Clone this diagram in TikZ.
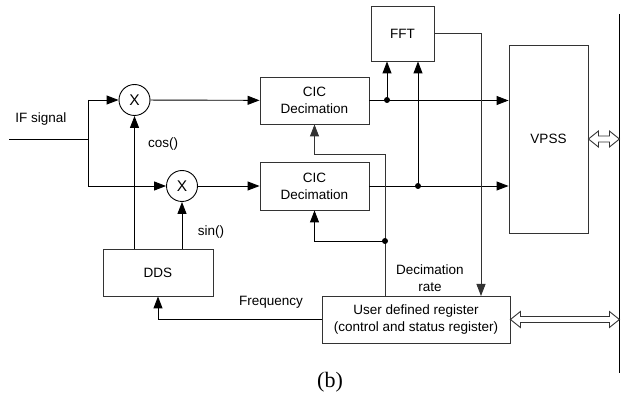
\documentclass[tikz,border=0pt]{standalone}
\usepackage{fontspec}
\setmainfont{Liberation Sans}
\newfontfamily\serifb{Liberation Serif}
\usetikzlibrary{arrows.meta,calc}
\begin{document}
\begin{tikzpicture}[x=1pt,y=-1pt,
  font=\fontsize{13.5}{17}\selectfont,
  line width=0.9pt,
  boxnode/.style={draw=black!80,rectangle,inner sep=0pt,align=center},
  mixnode/.style={draw=black,circle,minimum size=31pt,inner sep=0pt,font=\fontsize{15.5}{17}\selectfont},
  arr/.style={-{Triangle[length=12pt,width=9pt]}},
  dotnode/.style={circle,fill=black,inner sep=0pt,minimum size=6pt},
  fat/.style={draw=black!80,fill=white,line width=0.9pt,line join=miter},
  lbl/.style={inner sep=0pt,align=center}]
\useasboundingbox (0,0) rectangle (641,406);

% blocks
\node[mixnode] (m1) at (134.5,100) {X};
\node[mixnode] (m2) at (182,186) {X};
\node[boxnode,minimum width=109pt,minimum height=47pt] (cic1) at (314.5,100.5) {CIC\\Decimation};
\node[boxnode,minimum width=109pt,minimum height=48pt] (cic2) at (314.5,186) {CIC\\Decimation};
\node[boxnode,minimum width=63pt,minimum height=55pt] (fft) at (402.5,33.5) {FFT};
\node[boxnode,minimum width=79pt,minimum height=188pt] (vpss) at (548.5,139) {VPSS};
\node[boxnode,minimum width=110pt,minimum height=47pt] (dds) at (158,272.5) {DDS};
\node[boxnode,minimum width=188pt,minimum height=47pt] (reg) at (416,319.5) {User defined register\\(control and status register)};

% coordinates
\coordinate (ifin) at (9,139);
\coordinate (brm) at (88,139);
\coordinate (brt) at (88,100);
\coordinate (brb) at (88,186);
\coordinate (d1) at (387,100);
\coordinate (d2) at (418,186);
\coordinate (fr) at (481,296);
\coordinate (dt) at (385,154);
\coordinate (dj) at (385,241);
\coordinate (bustop) at (619,14);
\coordinate (busbot) at (619,373);

% input
\draw (ifin) -- (brm);
\draw (brt) -- (brb);
\draw[arr] (brt) -- (m1);
\draw[arr] (brb) -- (m2);
\draw[arr] (m1) -- (cic1);
\draw[arr] (m2) -- (cic2);

% DDS
\draw[arr] (dds.north -| m1) -- (m1.south);
\draw[arr] (dds.north -| m2) -- (m2.south);
\draw[arr] (reg.west) -| (dds.south);

% CIC outputs
\draw[arr] (cic1.east) -- (cic1.east -| vpss.west);
\draw[arr] (cic2.east) -- (cic2.east -| vpss.west);
\draw[arr] (d1) -- (d1 |- fft.south);
\draw[arr] (d2) -- (d2 |- fft.south);
\node[dotnode] at (d1) {};
\node[dotnode] at (d2) {};

% FFT to register
\draw[arr,draw=black!80] (fft.east) -| (fr);

% decimation feedback
\draw[arr,draw=black!80] (reg.north -| dt) -- (dt) -| (cic1.south);
\draw[arr] (dj) -| (cic2.south);
\node[dotnode] at (dj) {};

% bus
\draw (bustop) -- (busbot);

% fat double arrows
\draw[fat] (vpss.east) -- ++(10,-8) -- ++(0,5) -- ++(11,0) -- ++(0,-5) -- ++(10,8)
  -- ++(-10,8) -- ++(0,-5) -- ++(-11,0) -- ++(0,5) -- cycle;
\draw[fat] (reg.east) -- ++(10,-8) -- ++(0,5) -- ++(89,0) -- ++(0,-5) -- ++(10,8)
  -- ++(-10,8) -- ++(0,-5) -- ++(-89,0) -- ++(0,5) -- cycle;

% labels
\node[lbl] (lif) at (41,119) {IF signal};
\node[lbl] (lcos) at (163,144) {cos()};
\node[lbl] (lsin) at (211,232) {sin()};
\node[lbl] (lfreq) at (271,302) {Frequency};
\node[lbl] (ldec) at (430,278) {Decimation\\rate};
\node[lbl,font=\serifb\fontsize{22}{24}\selectfont] (lb) at (330,382) {(b)};
\end{tikzpicture}
\end{document}
